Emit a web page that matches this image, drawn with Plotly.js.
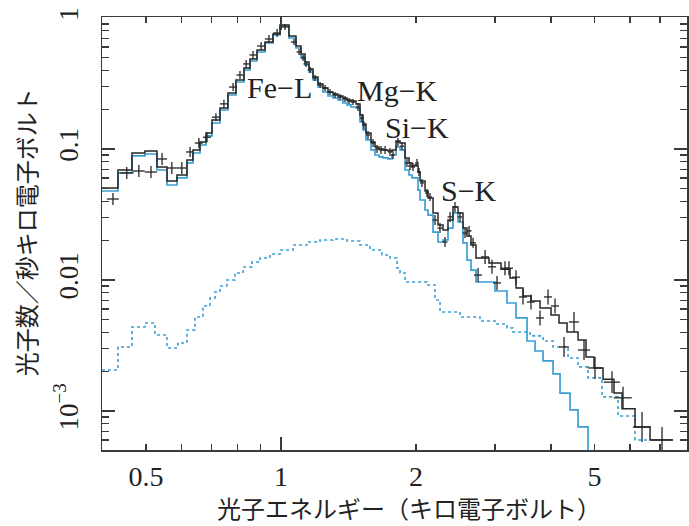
<!DOCTYPE html>
<html><head><meta charset="utf-8">
<script src="https://cdn.plot.ly/plotly-3.0.1.min.js"></script>
<style>html,body{margin:0;padding:0;background:#fff}#chart{width:689px;height:526px}</style>
</head><body><div id="chart"></div>
<script>
// Observed spectrum (data crosses): energy (keV), counts/s/keV, half bin width, relative error
const dataE=[0.422,0.453,0.482,0.513,0.543,0.571,0.601,0.627,0.656,0.684,
0.716,0.746,0.782,0.810,0.836,0.866,0.903,0.940,0.980,1.021,
1.069,1.097,1.120,1.137,1.161,1.191,1.222,1.254,1.286,1.320,
1.354,1.389,1.418,1.447,1.485,1.515,1.531,1.563,1.604,1.637,
1.671,1.706,1.750,1.777,1.823,1.861,1.909,1.939,1.969,2.010,
2.031,2.062,2.116,2.149,2.205,2.262,2.321,2.382,2.443,2.507,
2.572,2.626,2.680,2.750,2.851,2.954,3.031,3.158,3.223,3.342,
3.464,3.609,3.780,3.939,4.083,4.276,4.501,4.738,5.013,5.470,
5.788,6.382,7.072];
const dataV=[0.0415,0.0656,0.0679,0.0667,0.0839,0.0716,0.0716,0.0949,0.111,0.123,
0.175,0.221,0.297,0.367,0.446,0.522,0.611,0.691,0.768,0.854,
0.656,0.550,0.495,0.446,0.401,0.348,0.308,0.292,0.272,0.258,
0.249,0.241,0.232,0.228,0.209,0.172,0.152,0.128,0.111,0.100,
0.0983,0.0983,0.0949,0.0900,0.113,0.105,0.0782,0.0742,0.0729,0.0782,
0.0667,0.0550,0.0461,0.0430,0.0287,0.0249,0.0195,0.0303,0.0361,0.0303,
0.0228,0.0237,0.0192,0.0109,0.0150,0.0126,0.00949,0.0123,0.0123,0.0105,
0.00742,0.00679,0.00513,0.00742,0.00633,0.00308,0.00478,0.00292,0.00213,0.00166,
0.00126,0.000755,0.000601];
const dataEerr=[0.0130,0.0163,0.0149,0.0159,0.0140,0.0147,0.0155,0.0129,0.0135,0.0141,
0.0147,0.0154,0.0161,0.0146,0.0129,0.0156,0.0186,0.0194,0.0202,0.0210,
0.0165,0.0141,0.0144,0.0146,0.0149,0.0153,0.0157,0.0161,0.0166,0.0170,
0.0174,0.0179,0.0146,0.0149,0.0153,0.0156,0.0158,0.0161,0.0165,0.0169,
0.0172,0.0176,0.0180,0.0183,0.0188,0.0192,0.0197,0.0200,0.0203,0.0207,
0.0209,0.0212,0.0218,0.0221,0.0284,0.0291,0.0299,0.0307,0.0314,0.0323,
0.0331,0.0338,0.0414,0.0567,0.0587,0.0609,0.0624,0.0651,0.0664,0.0688,
0.0714,0.0743,0.0779,0.0811,0.0841,0.110,0.116,0.146,0.180,0.225,
0.267,0.295,0.400];
const dataRel=[0.111,0.111,0.111,0.111,0.111,0.111,0.111,0.092,0.092,0.092,
0.073,0.073,0.073,0.073,0.073,0.073,0.073,0.073,0.073,0.054,
0.054,0.054,0.054,0.054,0.054,0.054,0.054,0.054,0.054,0.054,
0.054,0.054,0.054,0.054,0.073,0.073,0.073,0.073,0.073,0.073,
0.073,0.073,0.073,0.073,0.073,0.073,0.073,0.073,0.073,0.073,
0.073,0.073,0.073,0.073,0.092,0.092,0.092,0.092,0.092,0.092,
0.092,0.092,0.092,0.131,0.131,0.131,0.131,0.131,0.131,0.131,
0.141,0.141,0.141,0.141,0.141,0.192,0.192,0.192,0.213,0.213,
0.213,0.302,0.257];

// Total model (black histogram): bin left edges (keV) and values
const totalE=[0.3990,0.4330,0.4653,0.4973,0.5290,0.5569,0.5862,0.6171,0.6364,0.6597,
0.6804,0.7017,0.7311,0.7615,0.7935,0.8270,0.8530,0.8840,0.9212,0.9598,
0.9949,1.0419,1.0800,1.1080,1.1311,1.1546,1.1785,1.2091,1.2405,1.2729,
1.3059,1.3398,1.3746,1.4031,1.4322,1.4698,1.5003,1.5236,1.5473,1.5874,
1.6204,1.6540,1.6884,1.7323,1.7683,1.8050,1.8425,1.8904,1.9296,1.9595,
1.9900,2.0209,2.0418,2.0948,2.1273,2.1826,2.2390,2.2972,2.3569,2.4182,
2.4810,2.5455,2.5983,2.6522,2.7210,2.9088,3.0940,3.2405,3.3420,3.4644,
3.6097,3.7804,4.0001,4.1678,4.3427,4.5951,4.7863,4.9875,5.2235,5.5265,
5.7590,6.1566,6.6491,7.4823];
const totalV=[0.0504,0.0691,0.0932,0.0966,0.0729,0.0570,0.0633,0.0824,0.0983,0.1131,
0.1325,0.1665,0.2056,0.2676,0.3363,0.4152,0.4864,0.5696,0.6559,0.7548,
0.8843,0.7289,0.6114,0.5311,0.4613,0.4080,0.3545,0.3135,0.2921,0.2724,
0.2630,0.2539,0.2451,0.2366,0.2325,0.2206,0.1817,0.1552,0.1325,0.1131,
0.1036,0.1000,0.0983,0.0966,0.0983,0.1151,0.1111,0.0854,0.0782,0.0742,
0.0755,0.0667,0.0570,0.0478,0.0423,0.0325,0.0263,0.0241,0.0287,0.0361,
0.0325,0.0249,0.0217,0.0185,0.0147,0.0135,0.0121,0.01036,0.00869,0.00755,
0.00691,0.00611,0.00540,0.00470,0.00401,0.00348,0.00258,0.00213,0.00175,0.00137,
0.00104,0.000755,0.000601,0.000601];

// Thermal plasma component (cyan solid histogram)
const plasmaE=[0.3990,0.4330,0.4653,0.4973,0.5290,0.5569,0.5862,0.6171,0.6364,0.6597,
0.6804,0.7017,0.7311,0.7615,0.7935,0.8270,0.8530,0.8840,0.9212,0.9598,
0.9949,1.0419,1.0800,1.1080,1.1311,1.1546,1.1785,1.2091,1.2405,1.2729,
1.3059,1.3398,1.3746,1.4031,1.4322,1.4698,1.5003,1.5236,1.5473,1.5874,
1.6204,1.6540,1.6884,1.7323,1.7683,1.8050,1.8425,1.8904,1.9296,1.9595,
1.9900,2.0209,2.0418,2.0948,2.1273,2.1826,2.2390,2.2972,2.3569,2.4182,
2.4810,2.5455,2.5983,2.6522,2.7210,3.0000,3.1909,3.3420,3.5363,3.6846,
3.8392,4.0414,4.1893,4.4102,4.5951,4.8374,5.1436];
const plasmaV=[0.0478,0.0656,0.0885,0.0916,0.0691,0.0531,0.0601,0.0782,0.0932,0.1073,
0.1257,0.1579,0.1985,0.2584,0.3247,0.4009,0.4697,0.5500,0.6444,0.7417,
0.8689,0.7036,0.5902,0.5039,0.4378,0.3871,0.3363,0.2972,0.2724,0.2539,
0.2451,0.2366,0.2245,0.2168,0.2092,0.2056,0.1608,0.1396,0.1172,0.0983,
0.0900,0.0869,0.0854,0.0839,0.0900,0.1036,0.0983,0.0691,0.0633,0.0601,
0.0601,0.0486,0.0408,0.0342,0.0313,0.0232,0.0195,0.0202,0.0249,0.0325,
0.0277,0.0192,0.0142,0.0119,0.00965,0.00824,0.00667,0.00513,0.00342,0.00287,
0.00241,0.00192,0.00137,0.00102,0.000755,0.0003,0.0003];

// Second component (cyan dotted histogram)
const softE=[0.3990,0.4330,0.4653,0.4973,0.5236,0.5569,0.5892,0.6171,0.6430,0.6699,
0.6945,0.7127,0.7311,0.7576,0.7894,0.8227,0.8617,0.8978,0.9451,0.9949,
1.0635,1.1427,1.2218,1.3059,1.4031,1.5003,1.5792,1.6798,1.7502,1.8143,
1.8425,1.8904,2.1164,2.2048,2.2623,2.5072,2.7776,3.0000,3.1909,3.2909,
3.5912,3.8392,4.0414,4.3650,4.5951,4.8374,5.1971,5.6421,6.1566,6.6491];
const softV=[0.002056,0.003081,0.004377,0.004696,0.003804,0.003027,0.003305,0.004152,0.005220,0.006331,
0.007290,0.008101,0.009000,0.01000,0.01131,0.01257,0.01372,0.01472,0.01579,0.01694,
0.01850,0.01950,0.02020,0.02056,0.01985,0.01850,0.01694,0.01552,0.01472,0.01234,
0.01131,0.00966,0.00916,0.00704,0.00570,0.00522,0.00486,0.00461,0.00430,0.00401,
0.00374,0.00342,0.00308,0.00254,0.00217,0.00179,0.00128,0.000916,0.000601,0.000601];

// Tick labels
const xTickVals=[0.4,0.5,0.6,0.7,0.8,0.9,1,2,3,4,5,6,7,8];
const xTickText=['','0.5','','','','','1','2','','','5','','',''];
const xMajorVals=[1];
const yDecades=[0.001,0.01,0.1,1];
const yDecadeText=['10<sup>\u22123</sup>','0.01','0.1','1'];
const lineLabels=['Fe\u2212L','Mg\u2212K','Si\u2212K','S\u2212K'];

const yTickVals=[], yTickText=[];
[0.0001,0.001,0.01,0.1].forEach(d=>{
  for(let m=1;m<=9;m++){
    const v=+(d*m).toPrecision(3);
    yTickVals.push(v);
    const k=yDecades.indexOf(v);
    yTickText.push(k>=0?yDecadeText[k]:'');
  }
});
yTickVals.push(1); yTickText.push('1');

const CYAN='#3a9fd5', INK='#262626', AXC='#3a3a3a';
const serif='Liberation Serif, Times New Roman, serif';
const cjk='Noto Sans CJK JP, Noto Sans, sans-serif';

const traces=[
 {x:softE,y:softV,mode:'lines',line:{shape:'hv',color:CYAN,width:1.6,dash:'dot'},hoverinfo:'skip',showlegend:false},
 {x:plasmaE,y:plasmaV,mode:'lines',line:{shape:'hv',color:CYAN,width:1.7},hoverinfo:'skip',showlegend:false},
 {x:totalE,y:totalV,mode:'lines',line:{shape:'hv',color:INK,width:1.5},hoverinfo:'skip',showlegend:false},
 {x:dataE,y:dataV,mode:'markers',marker:{size:1,color:'rgba(0,0,0,0)'},
  error_x:{type:'data',array:dataEerr,color:INK,thickness:1.3,width:0},
  error_y:{type:'data',symmetric:false,
    array:dataV.map((v,i)=>v*dataRel[i]),
    arrayminus:dataV.map((v,i)=>v-v/(1+dataRel[i])),
    color:INK,thickness:1.3,width:0},
  hoverinfo:'skip',showlegend:false},
 {x:[1],y:[0.1],xaxis:'x2',yaxis:'y2',mode:'markers',marker:{opacity:0},hoverinfo:'skip',showlegend:false}
];

const xr=[-0.3991,0.9052], yr=[-3.298,0.0076];
const annFont={family:serif,size:30,color:'#222'};
const ann=(text,x,y,font,extra)=>Object.assign({text,xref:'paper',yref:'paper',x,y,
  xanchor:'center',yanchor:'middle',showarrow:false,font},extra||{});
const layout={
 width:689,height:526,margin:{l:102,r:2,t:17,b:76},
 paper_bgcolor:'#fff',plot_bgcolor:'#fff',showlegend:false,
 xaxis:{type:'log',range:xr,tickmode:'array',tickvals:xTickVals,ticktext:xTickText,
   ticks:'inside',ticklen:6,tickwidth:1.2,tickcolor:AXC,showline:true,linecolor:AXC,linewidth:1.5,
   mirror:'ticks',showgrid:false,zeroline:false,tickfont:{family:serif,size:28,color:'#222'},ticklabelstandoff:1},
 yaxis:{type:'log',range:yr,tickmode:'array',tickvals:yTickVals,ticktext:yTickText,tickangle:-90,
   ticks:'inside',ticklen:7,tickwidth:1.2,tickcolor:AXC,showline:true,linecolor:AXC,linewidth:1.5,
   mirror:'ticks',showgrid:false,zeroline:false,tickfont:{family:serif,size:27,color:'#222'},ticklabelstandoff:12},
 xaxis2:{type:'log',range:xr,overlaying:'x',anchor:'y2',tickmode:'array',tickvals:xMajorVals,
   ticks:'inside',ticklen:13,tickwidth:1.2,tickcolor:AXC,showticklabels:false,showline:false,
   mirror:'ticks',showgrid:false,zeroline:false},
 yaxis2:{type:'log',range:yr,overlaying:'y',anchor:'x2',side:'left',tickmode:'array',tickvals:yDecades,
   ticks:'inside',ticklen:13,tickwidth:1.2,tickcolor:AXC,showticklabels:false,showline:false,
   mirror:'ticks',showgrid:false,zeroline:false},
 annotations:[
  ann(lineLabels[0],0.3026,0.838,annFont),
  ann(lineLabels[1],0.5043,0.830,annFont),
  ann(lineLabels[2],0.5385,0.744,annFont),
  ann(lineLabels[3],0.6274,0.600,annFont),
  ann('光子エネルギー（キロ電子ボルト）',0.5248,-0.133,{family:cjk,size:24,color:'#222'}),
  ann('光子数／秒キロ電子ボルト',-0.1316,0.503,{family:cjk,size:24,color:'#222'},{textangle:-90})
 ]
};
Plotly.newPlot('chart',traces,layout,{staticPlot:true,displayModeBar:false});
</script></body></html>
